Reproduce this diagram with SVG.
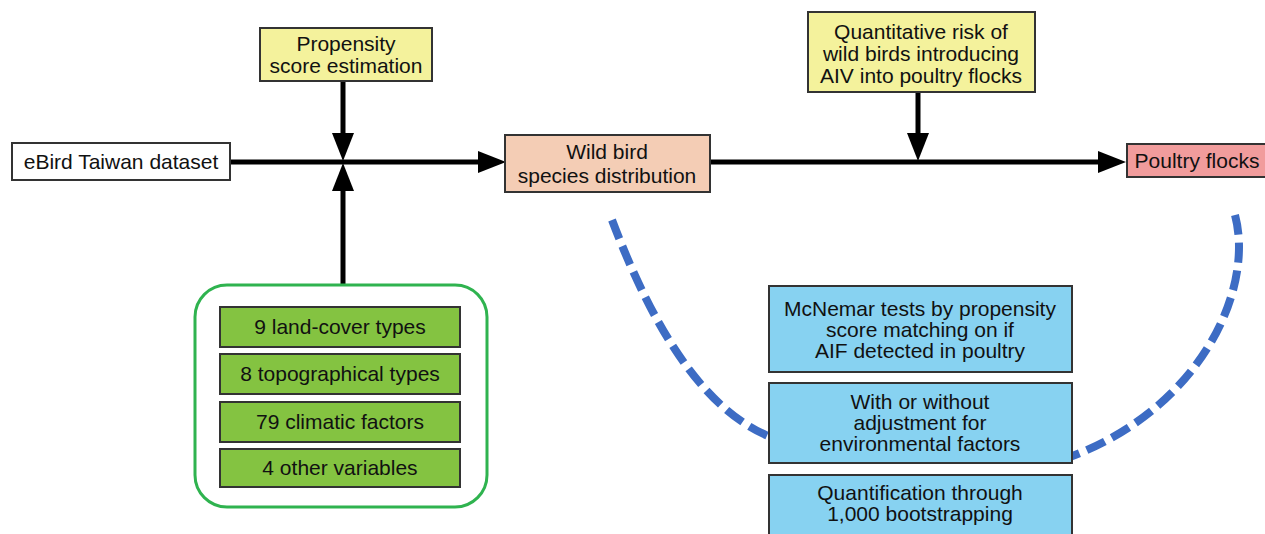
<svg xmlns="http://www.w3.org/2000/svg" width="1265" height="534" viewBox="0 0 1265 534">
<defs>
<marker id="ah" markerUnits="userSpaceOnUse" markerWidth="28" markerHeight="22" viewBox="0 0 28 22" refX="15" refY="11" orient="auto">
<path d="M0,0 L28,11 L0,22 z" fill="#000"/>
</marker>
</defs>
<style>
text{font-family:"Liberation Sans",Arial,sans-serif;font-size:21px;fill:#111;text-anchor:middle}
.bx{stroke:#333;stroke-width:2}
.yel{fill:#f4f29c}
.blue{fill:#87d2f1}
.grn{fill:#84c341}
.ln{stroke:#000;stroke-width:5;fill:none}
.dash{stroke:#3d6cc4;stroke-width:8;fill:none;stroke-dasharray:20 8}
</style>
<rect width="1265" height="534" fill="#fff"/>
<g id="connectors">
<path class="ln" d="M230,162 H493" marker-end="url(#ah)"/>
<path class="ln" d="M343,81 V148" marker-end="url(#ah)"/>
<path class="ln" d="M343,285 V176" marker-end="url(#ah)"/>
<path class="ln" d="M710,162 H1113" marker-end="url(#ah)"/>
<path class="ln" d="M918,92 V148" marker-end="url(#ah)"/>
<path class="dash" d="M612,220 C650,320 700,410 773,438"/>
<path class="dash" d="M1235,215 C1255,290 1200,410 1067,458"/>
</g>
<g id="ebird">
<rect class="bx" x="12" y="143" width="218" height="37" fill="#fff"/>
<text x="121" y="169">eBird Taiwan dataset</text>
</g>
<g id="propensity">
<rect class="bx yel" x="260" y="28" width="172" height="53"/>
<text x="346" y="51">Propensity</text>
<text x="346" y="73">score estimation</text>
</g>
<g id="wildbird">
<rect class="bx" x="505" y="135" width="205" height="57" fill="#f4cdb5"/>
<text x="607" y="159">Wild bird</text>
<text x="607" y="183">species distribution</text>
</g>
<g id="quantitative">
<rect class="bx yel" x="808" y="12" width="227" height="80"/>
<text x="921" y="39">Quantitative risk of</text>
<text x="921" y="61">wild birds introducing</text>
<text x="921" y="83">AIV into poultry flocks</text>
</g>
<g id="poultry">
<rect class="bx" x="1127" y="144" width="145" height="33" fill="#f19c9c"/>
<text x="1197" y="168">Poultry flocks</text>
</g>
<g id="variables">
<rect x="195" y="285" width="292" height="222" rx="32" fill="#fff" stroke="#2fb34f" stroke-width="3"/>
<rect class="bx grn" x="220" y="307" width="240" height="40"/>
<text x="340" y="334">9 land-cover types</text>
<rect class="bx grn" x="220" y="354" width="240" height="40"/>
<text x="340" y="381">8 topographical types</text>
<rect class="bx grn" x="220" y="402" width="240" height="40"/>
<text x="340" y="429">79 climatic factors</text>
<rect class="bx grn" x="220" y="449" width="240" height="38"/>
<text x="340" y="475">4 other variables</text>
</g>
<g id="mcnemar">
<rect class="bx blue" x="769" y="286" width="303" height="86"/>
<text x="920" y="316">McNemar tests by propensity</text>
<text x="920" y="337">score matching on if</text>
<text x="920" y="358">AIF detected in poultry</text>
</g>
<g id="adjustment">
<rect class="bx blue" x="769" y="383" width="303" height="80"/>
<text x="920" y="409">With or without</text>
<text x="920" y="430">adjustment for</text>
<text x="920" y="451">environmental factors</text>
</g>
<g id="quantification">
<rect class="bx blue" x="769" y="475" width="303" height="70"/>
<text x="920" y="500">Quantification through</text>
<text x="920" y="521">1,000 bootstrapping</text>
</g>
</svg>
